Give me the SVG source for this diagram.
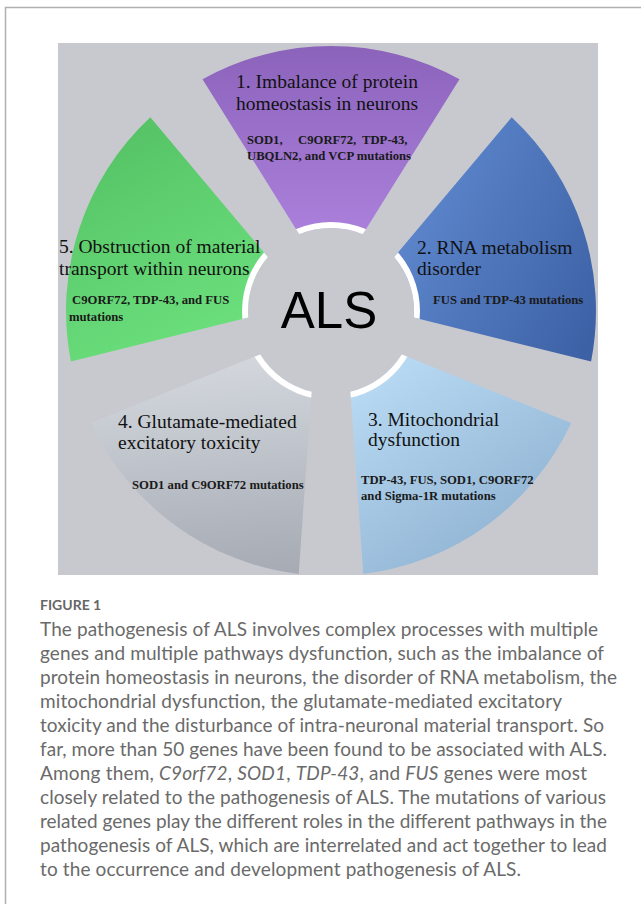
<svg xmlns="http://www.w3.org/2000/svg" width="641" height="904" viewBox="0 0 641 904">
  <style>
    .ttl { font-family: "Liberation Serif", "Times New Roman", serif; font-size: 19.5px; fill: #111; }
    .gen { font-family: "Liberation Serif", "Times New Roman", serif; font-size: 12.7px; font-weight: bold; fill: #1a1a1a; }
    .als { font-family: "Liberation Sans", Arial, sans-serif; font-size: 51px; fill: #000; }
    .cap { font-family: Lato, "Open Sans", sans-serif; font-size: 19px; font-weight: 400; fill: #6a6a6a; }
    .fig { font-family: Lato, "Open Sans", sans-serif; font-size: 14px; font-weight: bold; fill: #666; }
    .band { fill: #ffffff; }
  </style>
  <defs>
    <clipPath id="panelClip"><rect x="58" y="43" width="540" height="532"/></clipPath>
    <clipPath id="innerClip"><circle cx="331" cy="311" r="89"/></clipPath>
    <linearGradient id="gPurple" gradientUnits="userSpaceOnUse" x1="331" y1="46" x2="331" y2="234">
      <stop offset="0" stop-color="#8c63bb"/>
      <stop offset="1" stop-color="#aa80dc"/>
    </linearGradient>
    <linearGradient id="gBlue" gradientUnits="userSpaceOnUse" x1="400" y1="250" x2="590" y2="340">
      <stop offset="0" stop-color="#5b84ca"/>
      <stop offset="1" stop-color="#3d61a5"/>
    </linearGradient>
    <linearGradient id="gLight" gradientUnits="userSpaceOnUse" x1="365" y1="370" x2="500" y2="565">
      <stop offset="0" stop-color="#b9dbf4"/>
      <stop offset="1" stop-color="#8fb2d2"/>
    </linearGradient>
    <linearGradient id="gGray" gradientUnits="userSpaceOnUse" x1="270" y1="355" x2="290" y2="570">
      <stop offset="0" stop-color="#d3d7dd"/>
      <stop offset="1" stop-color="#a6abb4"/>
    </linearGradient>
    <linearGradient id="gGreen" gradientUnits="userSpaceOnUse" x1="150" y1="120" x2="260" y2="330">
      <stop offset="0" stop-color="#56c466"/>
      <stop offset="1" stop-color="#6de17e"/>
    </linearGradient>
    <path id="p1" d="M202.5,79.2 A265,265 0 0 1 459.5,79.2 L362.8,234.3 A83,83 0 0 0 299.2,234.3 Z"/>
    <path id="p2" d="M511.7,117.2 A265,265 0 0 1 591.1,361.6 L413.7,317.5 A83,83 0 0 0 394.1,257.1 Z"/>
    <path id="p3" d="M571.2,423.0 A265,265 0 0 1 363.3,574.0 L350.4,391.7 A83,83 0 0 0 401.8,354.4 Z"/>
    <path id="p4" d="M298.7,574.0 A265,265 0 0 1 90.8,423.0 L260.2,354.4 A83,83 0 0 0 311.6,391.7 Z"/>
    <path id="p5" d="M70.9,361.6 A265,265 0 0 1 150.3,117.2 L267.9,257.1 A83,83 0 0 0 248.3,317.5 Z"/>
  </defs>

  <rect x="0" y="0" width="641" height="904" fill="#ffffff"/>
  <path d="M5.5,904 V7.5 H641" fill="none" stroke="#b0b0b0" stroke-width="1.5"/>

  <rect x="58" y="43" width="540" height="532" fill="#c8c9cf"/>

  <g clip-path="url(#panelClip)">
    <g id="node1">
      <use href="#p1" fill="url(#gPurple)"/>
      <use href="#p1" class="band" clip-path="url(#innerClip)"/>
      <text class="ttl" x="236" y="88">1. Imbalance of protein</text>
      <text class="ttl" x="236" y="110">homeostasis in neurons</text>
      <text class="gen" y="144"><tspan x="247">SOD1,</tspan><tspan x="298">C9ORF72,</tspan><tspan x="362">TDP-43,</tspan></text>
      <text class="gen" x="247" y="160">UBQLN2, and VCP mutations</text>
    </g>
    <g id="node2">
      <use href="#p2" fill="url(#gBlue)"/>
      <use href="#p2" class="band" clip-path="url(#innerClip)"/>
      <text class="ttl" x="417" y="254">2. RNA metabolism</text>
      <text class="ttl" x="417" y="275">disorder</text>
      <text class="gen" x="433" y="304">FUS and TDP-43 mutations</text>
    </g>
    <g id="node3">
      <use href="#p3" fill="url(#gLight)"/>
      <use href="#p3" class="band" clip-path="url(#innerClip)"/>
      <text class="ttl" x="368" y="426">3. Mitochondrial</text>
      <text class="ttl" x="368" y="446">dysfunction</text>
      <text class="gen" x="361" y="484">TDP-43, FUS, SOD1, C9ORF72</text>
      <text class="gen" x="361" y="500">and Sigma-1R mutations</text>
    </g>
    <g id="node4">
      <use href="#p4" fill="url(#gGray)"/>
      <use href="#p4" class="band" clip-path="url(#innerClip)"/>
      <text class="ttl" x="118" y="428">4. Glutamate-mediated</text>
      <text class="ttl" x="118" y="449">excitatory toxicity</text>
      <text class="gen" x="132" y="489">SOD1 and C9ORF72 mutations</text>
    </g>
    <g id="node5">
      <use href="#p5" fill="url(#gGreen)"/>
      <use href="#p5" class="band" clip-path="url(#innerClip)"/>
      <text class="ttl" x="59" y="253">5. Obstruction of material</text>
      <text class="ttl" x="59" y="275">transport within neurons</text>
      <text class="gen" x="72" y="304">C9ORF72, TDP-43, and FUS</text>
      <text class="gen" x="69" y="321">mutations</text>
    </g>
    <g id="center">
      <text class="als" x="329" y="328" text-anchor="middle">ALS</text>
    </g>
  </g>
  <g id="connectors"/>

  <g id="caption">
    <text class="fig" x="40" y="610">FIGURE 1</text>
    <text class="cap" x="40" y="636" textLength="558" lengthAdjust="spacing">The pathogenesis of ALS involves complex processes with multiple</text>
    <text class="cap" x="40" y="660" textLength="564" lengthAdjust="spacing">genes and multiple pathways dysfunction, such as the imbalance of</text>
    <text class="cap" x="40" y="684" textLength="577" lengthAdjust="spacing">protein homeostasis in neurons, the disorder of RNA metabolism, the</text>
    <text class="cap" x="40" y="708" textLength="522" lengthAdjust="spacing">mitochondrial dysfunction, the glutamate-mediated excitatory</text>
    <text class="cap" x="40" y="732" textLength="564" lengthAdjust="spacing">toxicity and the disturbance of intra-neuronal material transport. So</text>
    <text class="cap" x="40" y="756" textLength="567" lengthAdjust="spacing">far, more than 50 genes have been found to be associated with ALS.</text>
    <text class="cap" x="40" y="780" textLength="547" lengthAdjust="spacing">Among them, <tspan font-style="italic">C9orf72</tspan>, <tspan font-style="italic">SOD1</tspan>, <tspan font-style="italic">TDP-43</tspan>, and <tspan font-style="italic">FUS</tspan> genes were most</text>
    <text class="cap" x="40" y="804" textLength="566" lengthAdjust="spacing">closely related to the pathogenesis of ALS. The mutations of various</text>
    <text class="cap" x="40" y="828" textLength="567" lengthAdjust="spacing">related genes play the different roles in the different pathways in the</text>
    <text class="cap" x="40" y="852" textLength="567" lengthAdjust="spacing">pathogenesis of ALS, which are interrelated and act together to lead</text>
    <text class="cap" x="40" y="876" textLength="481" lengthAdjust="spacing">to the occurrence and development pathogenesis of ALS.</text>
  </g>
</svg>
